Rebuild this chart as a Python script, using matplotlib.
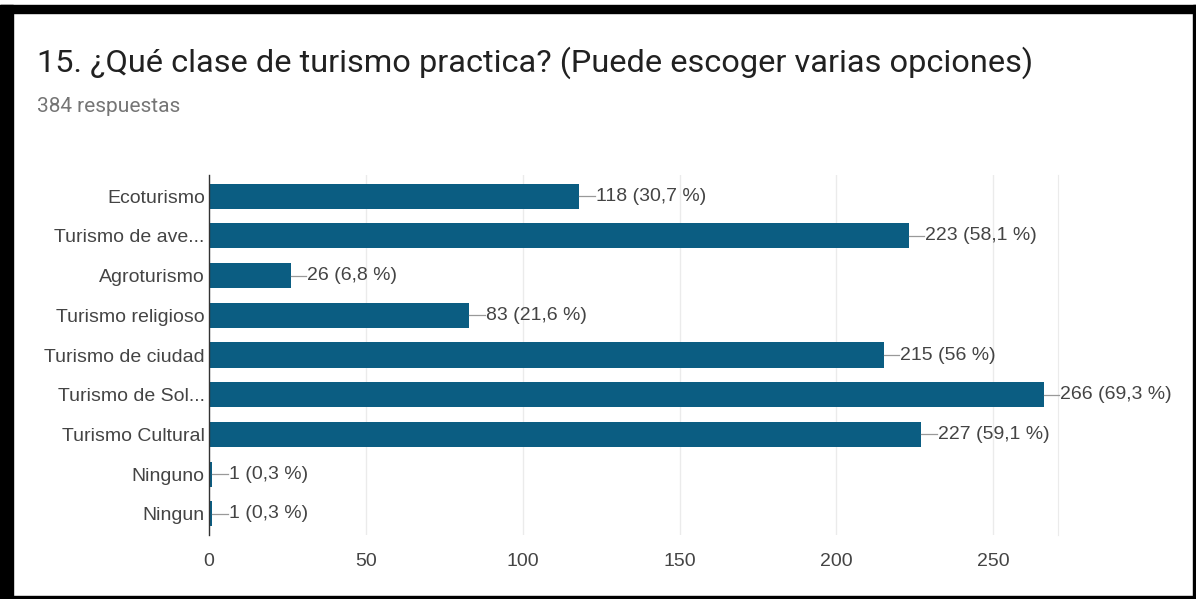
import matplotlib.pyplot as plt
from matplotlib.patches import Rectangle

categories = ["Ecoturismo", "Turismo de ave...", "Agroturismo", "Turismo religioso",
              "Turismo de ciudad", "Turismo de Sol...", "Turismo Cultural",
              "Ninguno", "Ningun"]
counts = [118, 223, 26, 83, 215, 266, 227, 1, 1]
percents = ["30,7", "58,1", "6,8", "21,6", "56", "69,3", "59,1", "0,3", "0,3"]
xticks = [0, 50, 100, 150, 200, 250]

bar_color = "#0b5d82"
text_color = "#444444"

fig = plt.figure(figsize=(11.96, 5.99), dpi=100)
W, H = 1196, 599

# black frame around the screenshot
fig.patches.append(Rectangle((0, 0), 13 / W, 1 - 5 / H, transform=fig.transFigure,
                             color="black", zorder=0))
fig.patches.append(Rectangle((0, 1 - 13 / H), 1, 8 / H, transform=fig.transFigure,
                             color="black", zorder=0))
fig.patches.append(Rectangle((1 - 3 / W, 0), 3 / W, 1 - 5 / H, transform=fig.transFigure,
                             color="black", zorder=0))
fig.patches.append(Rectangle((0, 0), 1, 3 / H, transform=fig.transFigure,
                             color="black", zorder=0))

fig.text(37 / W, 1 - 63 / H, "15. ¿Qué clase de turismo practica? (Puede escoger varias opciones)",
         fontsize=23.4, family="Roboto", color="#212121", va="center", ha="left")
fig.text(37 / W, 1 - 107 / H, "384 respuestas", fontsize=15, family="Roboto",
         color="#757575", va="center", ha="left")

ax = fig.add_axes([209 / W, 64 / H, 849 / W, 360 / H])
y = list(range(len(categories)))
ax.barh(y, counts, height=0.63, color=bar_color, zorder=3)
ax.set_ylim(len(categories) - 0.47, -0.53)
ax.set_xlim(0, 270.6)
ax.set_xticks(xticks)
ax.set_yticks(y)
ax.set_yticklabels(categories, family="Liberation Sans", fontsize=14, color=text_color)
for lbl in ax.get_xticklabels():
    lbl.set_family("Liberation Sans")
    lbl.set_fontsize(14)
    lbl.set_color(text_color)
ax.tick_params(length=0, pad=3)
ax.tick_params(axis="x", pad=13)
ax.grid(axis="x", color="#ebebeb", linewidth=1, zorder=0)
for s in ["top", "bottom"]:
    ax.spines[s].set_visible(False)
ax.spines["right"].set_color("#ebebeb")
ax.spines["left"].set_color("#333333")
ax.spines["left"].set_linewidth(1)
ax.spines["left"].set_zorder(4)

for yi, c, p in zip(y, counts, percents):
    ax.plot([c, c + 5], [yi, yi], color="#999999", linewidth=0.9, zorder=3,
            clip_on=False)
    ax.text(c + 5.3, yi, f"{c} ({p} %)", va="center", ha="left",
            family="Liberation Sans", fontsize=14, color=text_color, clip_on=False)

fig.savefig("out.png", dpi=100)
